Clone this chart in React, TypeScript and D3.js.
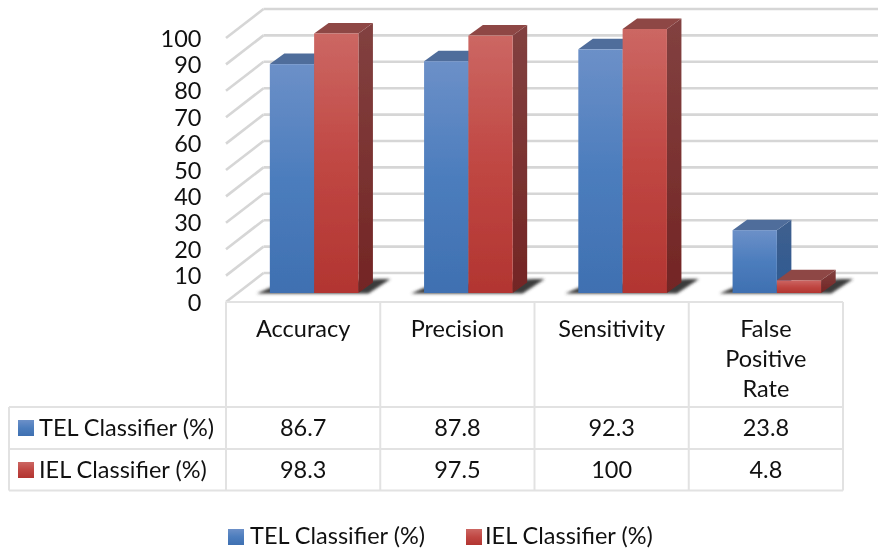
import React from "react";
import * as d3 from "d3";

const categories = ["Accuracy", "Precision", "Sensitivity", "False Positive Rate"];
const categoryLines = [["Accuracy"], ["Precision"], ["Sensitivity"], ["False", "Positive", "Rate"]];
const telValues = [86.7, 87.8, 92.3, 23.8];
const ielValues = [98.3, 97.5, 100, 4.8];
const telLabels = ["86.7", "87.8", "92.3", "23.8"];
const ielLabels = ["98.3", "97.5", "100", "4.8"];
const yTicks = [0, 10, 20, 30, 40, 50, 60, 70, 80, 90, 100];
const seriesNames = ["TEL Classifier (%)", "IEL Classifier (%)"];

const FONT = "Lato, Carlito, Calibri, sans-serif";
const TEXT = "#111";
const GRID = "#d6d6d6";

const x = d3.scaleBand<string>().domain(categories).range([226, 843]);
const y = d3.scaleLinear().domain([0, 100]).range([302, 38]);

const WALL = { dx: 37.5, dy: -29 };
const ZBAR = { dx: 11, dy: -9 };
const BAR = { dx: 14.5, dy: -10.5 };
const BAR_W = 44.3;

const pts = (p: number[][]) => p.map((q) => q.join(",")).join(" ");

function Bar3D({ x0, value, kind }: { x0: number; value: number; kind: "b" | "r" }) {
  const base = y(0) + ZBAR.dy;
  const top = y(value) + ZBAR.dy;
  const x1 = x0 + BAR_W;
  return (
    <g>
      <polygon
        points={pts([[x1, top], [x1 + BAR.dx, top + BAR.dy], [x1 + BAR.dx, base + BAR.dy], [x1, base]])}
        fill={`url(#side-${kind})`}
      />
      <polygon
        points={pts([[x0, top], [x0 + BAR.dx, top + BAR.dy], [x1 + BAR.dx, top + BAR.dy], [x1, top]])}
        fill={kind === "b" ? "#4f6d9b" : "#8e4745"}
      />
      <rect x={x0} y={top} width={BAR_W} height={base - top} fill={`url(#front-${kind})`} />
    </g>
  );
}

function Swatch({ px, py, kind }: { px: number; py: number; kind: "b" | "r" }) {
  return <rect x={px} y={py} width={16} height={16} fill={`url(#front-${kind})`} />;
}

export default function App() {
  const tableLeft = 9;
  const colEdges = [...categories.map((c) => x(c) as number), 843];
  const rows = [302, 407, 449, 490.5];
  return (
    <svg
      width={878}
      height={549}
      style={{ position: "absolute", left: 0, top: 0, background: "#fff" }}
      fontFamily={FONT}
    >
      <defs>
        <linearGradient id="front-b" x1="0" y1="0" x2="0" y2="1">
          <stop offset="0" stopColor="#6c90c8" />
          <stop offset="0.5" stopColor="#4c7dbd" />
          <stop offset="1" stopColor="#3f70b1" />
        </linearGradient>
        <linearGradient id="front-r" x1="0" y1="0" x2="0" y2="1">
          <stop offset="0" stopColor="#cc6763" />
          <stop offset="0.5" stopColor="#c04743" />
          <stop offset="1" stopColor="#b23531" />
        </linearGradient>
        <linearGradient id="side-b" x1="0" y1="0" x2="0" y2="1">
          <stop offset="0" stopColor="#3f5f8e" />
          <stop offset="1" stopColor="#2e5a92" />
        </linearGradient>
        <linearGradient id="side-r" x1="0" y1="0" x2="0" y2="1">
          <stop offset="0" stopColor="#824140" />
          <stop offset="1" stopColor="#732524" />
        </linearGradient>
        <filter id="soft" x="-20%" y="-20%" width="140%" height="140%">
          <feGaussianBlur stdDeviation="0.5" />
        </filter>
        <filter id="shadow" x="-20%" y="-50%" width="140%" height="200%">
          <feGaussianBlur stdDeviation="1.6" />
        </filter>
      </defs>

      {/* walls */}
      <g stroke={GRID} strokeWidth={2.6} fill="none">
        {yTicks.map((t) => (
          <g key={t}>
            <line x1={x.range()[0]} y1={y(t)} x2={x.range()[0] + WALL.dx} y2={y(t) + WALL.dy} />
            <line x1={x.range()[0] + WALL.dx} y1={y(t) + WALL.dy} x2={878} y2={y(t) + WALL.dy} />
          </g>
        ))}
      </g>

      {/* table */}
      <g stroke="#e2e2e2" strokeWidth={2} fill="none">
        <line x1={colEdges[0]} y1={rows[0]} x2={843} y2={rows[0]} />
        {rows.slice(1).map((r) => (
          <line key={r} x1={tableLeft} y1={r} x2={843} y2={r} />
        ))}
        {colEdges.map((e) => (
          <line key={e} x1={e} y1={rows[0]} x2={e} y2={rows[3]} />
        ))}
        <line x1={tableLeft} y1={rows[1]} x2={tableLeft} y2={rows[3]} />
      </g>

      {/* bars */}
      <g filter="url(#soft)">
        {categories.map((c, i) => {
          const x0 = (x(c) as number) + (x.bandwidth() - 2 * BAR_W) / 2 + ZBAR.dx;
          const b = y(0) + ZBAR.dy;
          return (
            <g key={c}>
              <polygon
                filter="url(#shadow)"
                fill="#3a3a3a"
                points={pts([
                  [x0 - 13, b + 0.5],
                  [x0 + 2, b - 6],
                  [x0 + 2 * BAR_W + 20, b - 14],
                  [x0 + 2 * BAR_W + 32, b - 14],
                  [x0 + 2 * BAR_W + 10, b + 0.5],
                ])}
              />
              <Bar3D x0={x0} value={telValues[i]} kind="b" />
              <Bar3D x0={x0 + BAR_W} value={ielValues[i]} kind="r" />
            </g>
          );
        })}
      </g>

      {/* y axis */}
      <g fontSize={23.5} fill={TEXT} textAnchor="end">
        {yTicks.map((t) => (
          <text key={t} x={201.5} y={y(t) + 8.5}>
            {t}
          </text>
        ))}
      </g>

      {/* table text */}
      <g fontSize={23.5} fill={TEXT} textAnchor="middle">
        {categories.map((c, i) => {
          const cx = (x(c) as number) + x.bandwidth() / 2;
          return (
            <g key={c}>
              {categoryLines[i].map((l, j) => (
                <text key={l} x={cx} y={337 + j * 30}>
                  {l}
                </text>
              ))}
              <text x={cx} y={436}>{telLabels[i]}</text>
              <text x={cx} y={478}>{ielLabels[i]}</text>
            </g>
          );
        })}
      </g>
      <g fontSize={23.5} fill={TEXT}>
        <Swatch px={18} py={420} kind="b" />
        <text x={39} y={435.5}>{seriesNames[0]}</text>
        <Swatch px={18} py={462} kind="r" />
        <text x={39} y={477.5}>{seriesNames[1]}</text>
        <Swatch px={228} py={529} kind="b" />
        <text x={250} y={544}>{seriesNames[0]}</text>
        <Swatch px={466} py={529} kind="r" />
        <text x={485} y={544}>{seriesNames[1]}</text>
      </g>
    </svg>
  );
}
